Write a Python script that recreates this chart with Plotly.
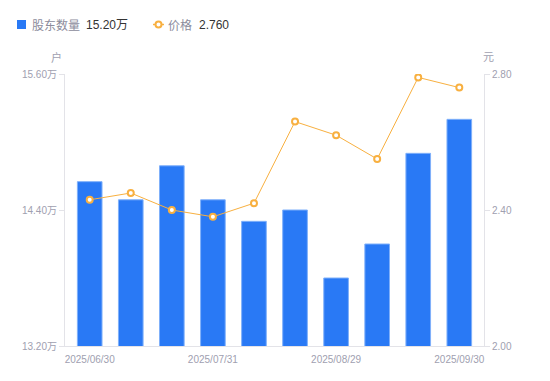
import plotly.graph_objects as go

dates = ["2025/06/30", "2025/07/10", "2025/07/20", "2025/07/31", "2025/08/08",
         "2025/08/20", "2025/08/29", "2025/09/10", "2025/09/19", "2025/09/30"]
holders = [14.65, 14.49, 14.79, 14.49, 14.30, 14.40, 13.80, 14.10, 14.90, 15.20]
price = [2.43, 2.45, 2.40, 2.38, 2.42, 2.66, 2.62, 2.55, 2.79, 2.76]
tick_dates = ["2025/06/30", "2025/07/31", "2025/08/29", "2025/09/30"]
left_ticks = [13.20, 14.40, 15.60]
left_labels = ["13.20万", "14.40万", "15.60万"]
right_ticks = [2.00, 2.40, 2.80]
right_labels = ["2.00", "2.40", "2.80"]

FONT = "Liberation Sans, Noto Sans CJK SC, sans-serif"
GRAY = "#a0a0b0"
LGRAY = "#8c8c9c"
DARK = "#333333"
BLUE = "#2979f5"
ORANGE = "#f8b040"
AXIS = "#e3e3e8"

fig = go.Figure()
fig.add_trace(go.Bar(
    x=dates, y=holders, yaxis="y",
    marker=dict(color=BLUE, line=dict(color="#7fb0fa", width=1)),
    width=0.6, name="股东数量", showlegend=False,
))
fig.add_trace(go.Scatter(
    x=dates, y=price, yaxis="y2", mode="lines+markers",
    line=dict(color=ORANGE, width=1),
    marker=dict(symbol="circle", size=6, color="white", line=dict(color=ORANGE, width=2)),
    name="价格", showlegend=False,
))

# custom legend (top-left, in pixel offsets from the plot's top-left corner)
shapes = [
    dict(type="rect", xref="paper", yref="paper", xsizemode="pixel", ysizemode="pixel",
         xanchor=0, yanchor=1, x0=-48, x1=-39, y0=45, y1=54,
         fillcolor=BLUE, line=dict(width=0)),
    dict(type="line", xref="paper", yref="paper", xsizemode="pixel", ysizemode="pixel",
         xanchor=0, yanchor=1, x0=88, x1=99, y0=49.5, y1=49.5,
         line=dict(color=ORANGE, width=1.5)),
    dict(type="circle", xref="paper", yref="paper", xsizemode="pixel", ysizemode="pixel",
         xanchor=0, yanchor=1, x0=90.5, x1=96.5, y0=46.5, y1=52.5,
         fillcolor="white", line=dict(color=ORANGE, width=2)),
]

def legend_text(txt, px, color):
    return dict(text=txt, xref="paper", yref="paper", x=0, y=1, xshift=px, yshift=49,
                xanchor="left", yanchor="middle", showarrow=False,
                font=dict(size=12, color=color, family=FONT))

annotations = [
    legend_text("股东数量", -35, LGRAY),
    legend_text(f"{holders[-1]:.2f}万", 19, DARK),
    legend_text("价格", 101, LGRAY),
    legend_text(f"{price[-1]:.3f}", 132, DARK),
    dict(text="户", xref="paper", yref="paper", x=0, y=1, xshift=-9, yshift=17,
         xanchor="center", yanchor="middle",
         showarrow=False, font=dict(size=11, color=GRAY, family=FONT)),
    dict(text="元", xref="paper", yref="paper", x=1, y=1, xshift=4, yshift=17,
         xanchor="center", yanchor="middle",
         showarrow=False, font=dict(size=11, color=GRAY, family=FONT)),
]

# the page body has an 8px default margin, so margins are reduced accordingly
fig.update_layout(
    width=550, height=381,
    margin=dict(l=57, r=74, t=66, b=43),
    paper_bgcolor="white", plot_bgcolor="white",
    font=dict(family=FONT, size=10, color=GRAY),
    showlegend=False,
    xaxis=dict(
        type="category", tickmode="array", tickvals=tick_dates, ticktext=tick_dates,
        showline=True, linecolor=AXIS, linewidth=1,
        ticks="outside", ticklen=4, tickcolor="rgba(0,0,0,0)",
        showgrid=False, tickfont=dict(size=10, color=GRAY), automargin=False,
    ),
    yaxis=dict(
        range=[13.20, 15.60], tickmode="array", tickvals=left_ticks, ticktext=left_labels,
        showline=True, linecolor=AXIS, linewidth=1, ticks="outside",
        tickcolor=AXIS, ticklen=5, showgrid=False, zeroline=False,
        tickfont=dict(size=10, color=GRAY), automargin=False,
    ),
    yaxis2=dict(
        overlaying="y", side="right",
        range=[2.00, 2.80], tickmode="array", tickvals=right_ticks, ticktext=right_labels,
        showline=True, linecolor=AXIS, linewidth=1, ticks="outside",
        tickcolor=AXIS, ticklen=5, showgrid=False, zeroline=False,
        tickfont=dict(size=10, color=GRAY), automargin=False,
    ),
    shapes=shapes,
    annotations=annotations,
)

fig.write_html("out.html")
